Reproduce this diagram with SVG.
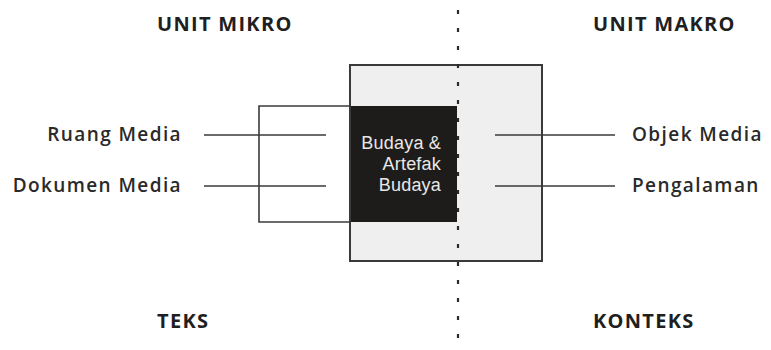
<svg xmlns="http://www.w3.org/2000/svg" width="771" height="350" viewBox="0 0 771 350">
<style>
.hd{font-family:"Open Sans","Liberation Sans",sans-serif;font-weight:700;font-size:20px;fill:#1f1f1f;letter-spacing:1.3px}
.lb{font-family:"Open Sans","Liberation Sans",sans-serif;font-weight:600;font-size:19px;fill:#2a2a2a;letter-spacing:1.4px}
.in{font-family:"Liberation Sans",Arial,sans-serif;font-size:18px;fill:#e8e8e8;letter-spacing:0.2px}
.ln{stroke:#3a3a3a;stroke-width:1.6;fill:none}
</style>
<rect width="771" height="350" fill="#ffffff"/>
<g id="unit-makro-box">
<rect x="350" y="65" width="192" height="196" fill="#efefef" stroke="#3a3a3a" stroke-width="2"/>
</g>
<g id="teks-frame">
<path class="ln" d="M351,106 H259 V222 H351"/>
</g>
<g id="budaya">
<rect x="351" y="106" width="106" height="116" fill="#1e1c1a"/>
<text class="in" text-anchor="end" x="441" y="149">Budaya &amp;</text>
<text class="in" text-anchor="end" x="441" y="170">Artefak</text>
<text class="in" text-anchor="end" x="441" y="191">Budaya</text>
</g>
<g id="divider">
<line x1="458" y1="10" x2="458" y2="350" stroke="#2a2a2a" stroke-width="2.2" stroke-dasharray="4 14"/>
</g>
<g id="connectors">
<line class="ln" x1="204" y1="135" x2="326" y2="135"/>
<line class="ln" x1="204" y1="186" x2="326" y2="186"/>
<line class="ln" x1="495" y1="135" x2="615" y2="135"/>
<line class="ln" x1="495" y1="186" x2="615" y2="186"/>
</g>
<g id="unit-mikro"><text class="hd" x="157" y="31">UNIT MIKRO</text></g>
<g id="unit-makro"><text class="hd" x="593" y="31">UNIT MAKRO</text></g>
<g id="teks"><text class="hd" x="157" y="328">TEKS</text></g>
<g id="konteks"><text class="hd" x="593" y="328">KONTEKS</text></g>
<g id="ruang-media"><text class="lb" text-anchor="end" x="182" y="141">Ruang Media</text></g>
<g id="dokumen-media"><text class="lb" text-anchor="end" x="182" y="192">Dokumen Media</text></g>
<g id="objek-media"><text class="lb" x="632" y="141">Objek Media</text></g>
<g id="pengalaman"><text class="lb" x="632" y="192">Pengalaman</text></g>
</svg>
